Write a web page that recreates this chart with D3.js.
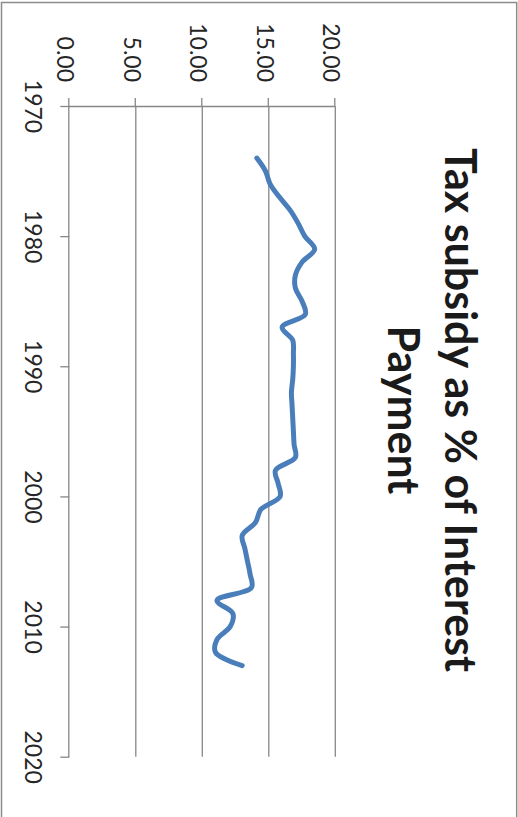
<!DOCTYPE html>
<html>
<head>
<meta charset="utf-8">
<script src="https://cdn.jsdelivr.net/npm/d3@7"></script>
<style>
  html, body { margin: 0; padding: 0; background: #fff; }
  svg { display: block; }
</style>
</head>
<body>
<svg id="chart" width="518" height="817"></svg>
<script>
// Tax subsidy as a share of interest payments, annual
const years = [1974, 1975, 1976, 1977, 1978, 1979, 1980, 1981, 1982, 1983,
               1984, 1985, 1986, 1987, 1988, 1989, 1990, 1991, 1992, 1993,
               1994, 1995, 1996, 1997, 1998, 1999, 2000, 2001, 2002, 2003,
               2004, 2005, 2006, 2007, 2008, 2009, 2010, 2011, 2012, 2013];
const subsidyPct = [14.1, 14.75, 15.1, 15.8, 16.6, 17.2, 17.7, 18.45, 17.5, 17.0,
                    17.0, 17.5, 17.75, 16.0, 16.8, 16.85, 16.85, 16.8, 16.7, 16.75,
                    16.8, 16.85, 16.9, 17.0, 15.5, 15.7, 15.85, 14.4, 14.0, 13.0,
                    13.2, 13.4, 13.6, 13.7, 11.1, 12.3, 12.1, 11.1, 11.0, 13.0];
const yearTicks = [1970, 1980, 1990, 2000, 2010, 2020];
const valueTicks = [0, 5, 10, 15, 20];
const titleLines = ["Tax subsidy as % of Interest", "Payment"];

const W = 817, H = 518;          // chart drawn landscape, then turned a quarter
const svg = d3.select("#chart");
const g = svg.append("g").attr("transform", `translate(${518},0) rotate(90)`);

// outer frame
g.append("rect")
  .attr("x", 2.5).attr("y", 1.3)
  .attr("width", W + 20).attr("height", 515.2)
  .attr("fill", "none").attr("stroke", "#8c8c8c").attr("stroke-width", 1.5);

const x = d3.scaleLinear().domain([1970, 2020]).range([106, 756.7]);
const y = d3.scaleLinear().domain([0, 20]).range([448.7, 182.7]);

const gridColor = "#878787";
const font = "Lato, 'Open Sans', sans-serif";

// horizontal gridlines
g.append("g").selectAll("line")
  .data(valueTicks.filter(v => v > 0))
  .join("line")
  .attr("x1", x(1970)).attr("x2", x(2020))
  .attr("y1", d => y(d)).attr("y2", d => y(d))
  .attr("stroke", gridColor).attr("stroke-width", 1.3);

// value axis
const yAxis = g.append("g")
  .attr("transform", `translate(${x(1970)},0)`)
  .call(d3.axisLeft(y).tickValues(valueTicks).tickSize(8).tickSizeOuter(0)
        .tickPadding(16).tickFormat(d3.format(".2f")));

// year axis
const xAxis = g.append("g")
  .attr("transform", `translate(0,${y(0)})`)
  .call(d3.axisBottom(x).tickValues(yearTicks).tickSize(9).tickSizeOuter(0)
        .tickFormat(d3.format("d")));

[yAxis, xAxis].forEach(ax => {
  ax.select(".domain").attr("stroke", gridColor).attr("stroke-width", 1.3);
  ax.selectAll(".tick line").attr("stroke", gridColor).attr("stroke-width", 1.3);
  ax.selectAll(".tick text")
    .attr("fill", "#262626")
    .style("font-family", font)
    .style("font-size", "23px");
});
yAxis.selectAll(".tick text").attr("dy", "0.5em");
xAxis.selectAll(".tick text").attr("y", 44.3).attr("dy", 0);

// series line
const line = d3.line()
  .x((d, i) => x(years[i]))
  .y(d => y(d))
  .curve(d3.curveCatmullRom.alpha(0.5));

g.append("path")
  .datum(subsidyPct)
  .attr("d", line)
  .attr("fill", "none")
  .attr("stroke", "#4a7ebb")
  .attr("stroke-width", 5)
  .attr("stroke-linecap", "round")
  .attr("stroke-linejoin", "round");

// title
const title = g.append("g");
const t1 = title.append("text")
  .attr("x", 410).attr("y", 73)
  .attr("text-anchor", "middle")
  .style("font-family", font).style("font-weight", 700).style("font-size", "43px")
  .attr("fill", "#1a1a1a")
  .text(titleLines[0]);
const t2 = title.append("text")
  .attr("x", 410).attr("y", 130)
  .attr("text-anchor", "middle")
  .style("font-family", font).style("font-weight", 700).style("font-size", "43px")
  .attr("fill", "#1a1a1a")
  .text(titleLines[1]);

// keep the first line to its 540px run, narrowing both lines alike
const L1 = t1.node().getComputedTextLength();
const L2 = t2.node().getComputedTextLength();
if (L1 > 540) {
  const k = 540 / L1;
  t1.attr("textLength", 540).attr("lengthAdjust", "spacingAndGlyphs");
  t2.attr("textLength", L2 * k).attr("lengthAdjust", "spacingAndGlyphs");
}
</script>
</body>
</html>
